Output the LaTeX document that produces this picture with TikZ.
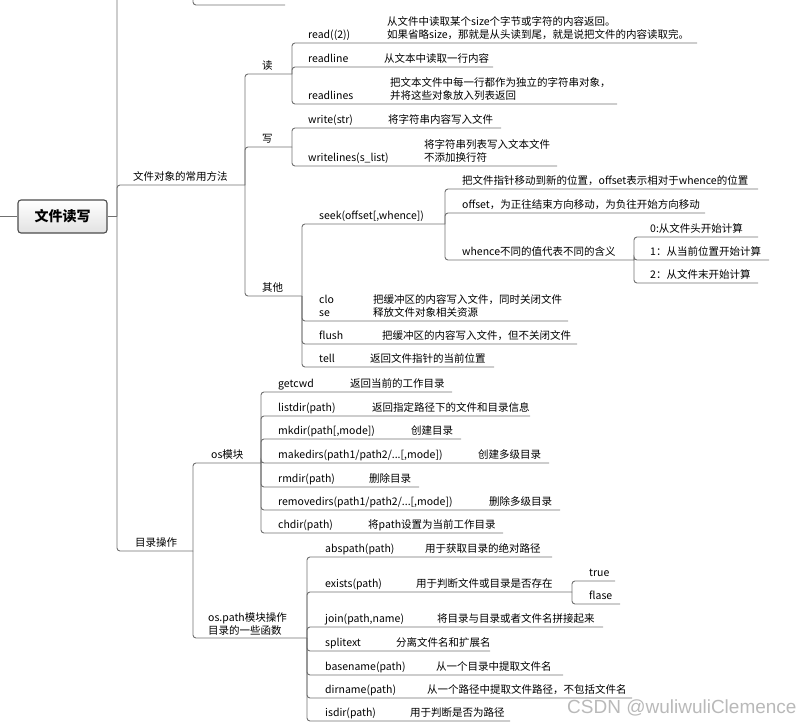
\documentclass[tikz,border=0pt]{standalone}
\usepackage{fontspec}
\setmainfont{Noto Sans CJK SC}
\newfontfamily\wmfont{Liberation Sans}
\usepackage{xcolor}
\usepackage{tikz}
\usetikzlibrary{positioning}
\definecolor{linegray}{HTML}{707070}
\definecolor{boxbot}{HTML}{E2E2E2}

\begin{document}
\begin{tikzpicture}[x=1pt, y=-1pt,
    lbl/.style={anchor=base west, inner sep=0pt, font=\fontsize{10.5}{12}\selectfont},
    br/.style={draw=linegray, line width=0.9pt, rounded corners=3pt},
    rootbox/.style={draw=black!70, line width=1.1pt, rounded corners=3pt, top color=white, bottom color=boxbot,
        minimum width=89pt, minimum height=33pt, inner sep=0pt, font=\fontsize{14}{16}\selectfont\bfseries}]
    \useasboundingbox (0,0) rectangle (812,723);
    \clip (0,0) rectangle (812,723);

    % root
    \node[rootbox] (root) at (62.5,216.5) {文件读写};
    \coordinate (root-w) at (0,216.5);
    \coordinate (root-t) at (117,216.5);
    \draw[br] (root-w) -- (root.west);
    \draw[br] (root.east) -- (root-t);

    % first level
    \coordinate (hid) at (193,-40);
    \coordinate (hid-e) at (285,5);
    \coordinate (obj) at (245,185);
    \coordinate (dir) at (193,551);
    \draw[br] (root-t) |- (hid);
    \draw[br] (hid) |- (hid-e);
    \draw[br] (root-t) |- (obj);
    \draw[br] (root-t) |- (dir);
    \node[lbl] (obj-t) at (133,180) {文件对象的常用方法};
    \node[lbl] (dir-t) at (135,546) {目录操作};

    % file object methods
    \coordinate (rd) at (292,74);
    \coordinate (wr) at (292,147);
    \coordinate (oth) at (302,296);
    \foreach \c in {rd,wr,oth} \draw[br] (obj) |- (\c);
    \node[lbl] (rd-t) at (262,69) {读};
    \node[lbl] (wr-t) at (262,142) {写};
    \node[lbl] (oth-t) at (262,291) {其他};

    % read
    \coordinate (read) at (697,43);
    \coordinate (rdl) at (493,67);
    \coordinate (rdls) at (617,104);
    \foreach \c in {read,rdl,rdls} \draw[br] (rd) |- (\c);
    \node[lbl] (read-t) at (308,38) {read((2))};
    \node[lbl] (read-d1) at (387,25) {从文件中读取某个size个字节或字符的内容返回。};
    \node[lbl] (read-d2) at (387,38) {如果省略size，那就是从头读到尾，就是说把文件的内容读取完。};
    \node[lbl] (rdl-t) at (308,62) {readline};
    \node[lbl] (rdl-d) at (384,62) {从文本中读取一行内容};
    \node[lbl] (rdls-t) at (308,99) {readlines};
    \node[lbl] (rdls-d1) at (390,86) {把文本文件中每一行都作为独立的字符串对象，};
    \node[lbl] (rdls-d2) at (390,99) {并将这些对象放入列表返回};

    % write
    \coordinate (wstr) at (501,128);
    \coordinate (wlst) at (557,166);
    \foreach \c in {wstr,wlst} \draw[br] (wr) |- (\c);
    \node[lbl] (wstr-t) at (308,123) {write(str)};
    \node[lbl] (wstr-d) at (388,123) {将字符串内容写入文件};
    \node[lbl] (wlst-t) at (308,161) {writelines(s\_list)};
    \node[lbl] (wlst-d1) at (424,148) {将字符串列表写入文本文件};
    \node[lbl] (wlst-d2) at (424,161) {不添加换行符};

    % other
    \coordinate (seek) at (445,224);
    \coordinate (clo) at (568,321);
    \coordinate (flu) at (577,344);
    \coordinate (tell) at (494,367);
    \foreach \c in {seek,clo,flu,tell} \draw[br] (oth) |- (\c);
    \node[lbl] (seek-t) at (319,219) {seek(offset[,whence])};
    \node[lbl] (clo-t1) at (319,303) {clo};
    \node[lbl] (clo-t2) at (319,316) {se};
    \node[lbl] (clo-d1) at (373,303) {把缓冲区的内容写入文件，同时关闭文件};
    \node[lbl] (clo-d2) at (373,316) {释放文件对象相关资源};
    \node[lbl] (flu-t) at (319,339) {flush};
    \node[lbl] (flu-d) at (382,339) {把缓冲区的内容写入文件，但不关闭文件};
    \node[lbl] (tell-t) at (319,362) {tell};
    \node[lbl] (tell-d) at (370,362) {返回文件指针的当前位置};

    % seek
    \coordinate (sk1) at (758,189);
    \coordinate (sk2) at (705,213);
    \coordinate (whc) at (634,260);
    \foreach \c in {sk1,sk2,whc} \draw[br] (seek) |- (\c);
    \node[lbl] (sk1-t) at (462,184) {把文件指针移动到新的位置，offset表示相对于whence的位置};
    \node[lbl] (sk2-t) at (462,208) {offset，为正往结束方向移动，为负往开始方向移动};
    \node[lbl] (whc-t) at (462,255) {whence不同的值代表不同的含义};

    % whence
    \coordinate (wh0) at (758,237);
    \coordinate (wh1) at (769,260);
    \coordinate (wh2) at (758,283);
    \foreach \c in {wh0,wh1,wh2} \draw[br] (whc) |- (\c);
    \node[lbl] (wh0-t) at (650,232) {0:从文件头开始计算};
    \node[lbl] (wh1-t) at (650,255) {1：从当前位置开始计算};
    \node[lbl] (wh2-t) at (650,278) {2：从文件末开始计算};

    % directories
    \coordinate (osm) at (261,463);
    \coordinate (osp) at (307,638);
    \foreach \c in {osm,osp} \draw[br] (dir) |- (\c);
    \node[lbl] (osm-t) at (211,458) {os模块};
    \node[lbl] (osp-t1) at (208,621) {os.path模块操作};
    \node[lbl] (osp-t2) at (208,634) {目录的一些函数};

    % os
    \coordinate (gcwd) at (452,392);
    \coordinate (lsd) at (530,416);
    \coordinate (mkd) at (461,439);
    \coordinate (mkds) at (549,463);
    \coordinate (rmd) at (419,487);
    \coordinate (rmds) at (560,510);
    \coordinate (chd) at (503,533);
    \foreach \c in {gcwd,lsd,mkd,mkds,rmd,rmds,chd} \draw[br] (osm) |- (\c);
    \node[lbl] (gcwd-t) at (278,387) {getcwd};
    \node[lbl] (gcwd-d) at (350,387) {返回当前的工作目录};
    \node[lbl] (lsd-t) at (278,411) {listdir(path)};
    \node[lbl] (lsd-d) at (372,411) {返回指定路径下的文件和目录信息};
    \node[lbl] (mkd-t) at (278,434) {mkdir(path[,mode])};
    \node[lbl] (mkd-d) at (411,434) {创建目录};
    \node[lbl] (mkds-t) at (278,458) {makedirs(path1/path2/...[,mode])};
    \node[lbl] (mkds-d) at (478,458) {创建多级目录};
    \node[lbl] (rmd-t) at (278,482) {rmdir(path)};
    \node[lbl] (rmd-d) at (369,482) {删除目录};
    \node[lbl] (rmds-t) at (278,505) {removedirs(path1/path2/...[,mode])};
    \node[lbl] (rmds-d) at (489,505) {删除多级目录};
    \node[lbl] (chd-t) at (278,528) {chdir(path)};
    \node[lbl] (chd-d) at (368,528) {将path设置为当前工作目录};

    % os.path
    \coordinate (absp) at (552,557);
    \coordinate (exs) at (572,592);
    \coordinate (jn) at (603,627);
    \coordinate (spl) at (490,651);
    \coordinate (bsn) at (563,675);
    \coordinate (drn) at (632,698);
    \coordinate (isd) at (510,721);
    \foreach \c in {absp,exs,jn,spl,bsn,drn,isd} \draw[br] (osp) |- (\c);
    \node[lbl] (absp-t) at (325,552) {abspath(path)};
    \node[lbl] (absp-d) at (425,552) {用于获取目录的绝对路径};
    \node[lbl] (exs-t) at (325,587) {exists(path)};
    \node[lbl] (exs-d) at (416,587) {用于判断文件或目录是否存在};
    \node[lbl] (jn-t) at (325,622) {join(path,name)};
    \node[lbl] (jn-d) at (437,622) {将目录与目录或者文件名拼接起来};
    \node[lbl] (spl-t) at (325,646) {splitext};
    \node[lbl] (spl-d) at (396,646) {分离文件名和扩展名};
    \node[lbl] (bsn-t) at (325,670) {basename(path)};
    \node[lbl] (bsn-d) at (436,670) {从一个目录中提取文件名};
    \node[lbl] (drn-t) at (325,693) {dirname(path)};
    \node[lbl] (drn-d) at (427,693) {从一个路径中提取文件路径，不包括文件名};
    \node[lbl] (isd-t) at (325,716) {isdir(path)};
    \node[lbl] (isd-d) at (410,716) {用于判断是否为路径};

    % exists
    \coordinate (tru) at (615,581);
    \coordinate (fal) at (620,604);
    \foreach \c in {tru,fal} \draw[br] (exs) |- (\c);
    \node[lbl] (tru-t) at (589,576) {true};
    \node[lbl] (fal-t) at (589,599) {flase};

    % watermark
    \node[anchor=base west, inner sep=0pt, text=gray!55, font=\wmfont\fontsize{19}{21}\selectfont] (wm) at (567,713) {CSDN @wuliwuliClemence};
\end{tikzpicture}
\end{document}
